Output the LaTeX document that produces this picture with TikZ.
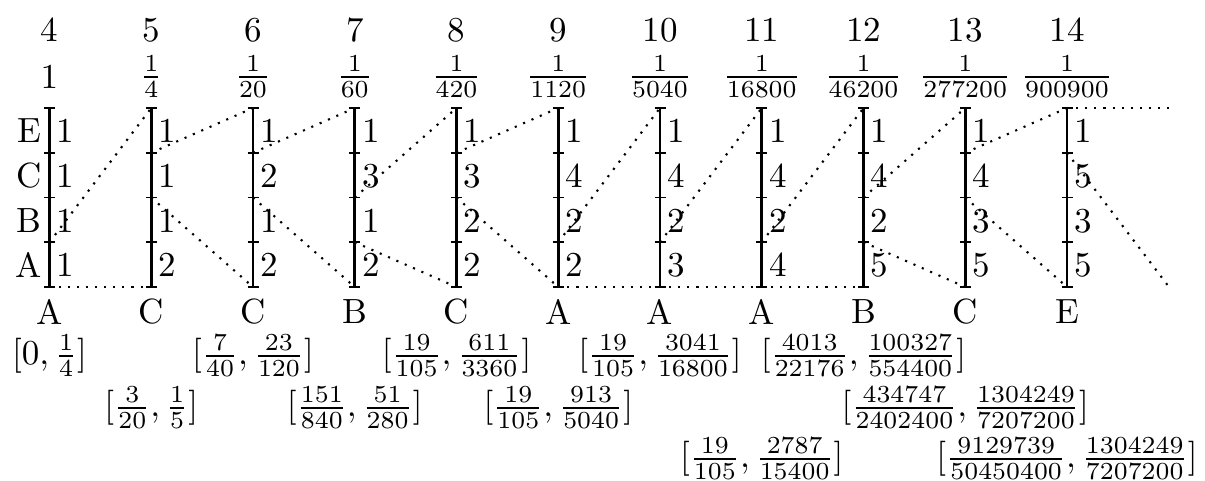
\documentclass[tikz,border=0pt]{standalone}
\usepackage{amsmath}
\usetikzlibrary{positioning}

\begin{document}
\begin{tikzpicture}[
    x=0.2857pt, y=-0.2857pt,
    tape/.style={line width=0.8pt},
    tapetick/.style={line width=0.5pt},
    zoomline/.style={semithick, dotted},
    cnt/.style={inner sep=0pt},
    rng/.style={inner sep=0pt}
  ]
  \useasboundingbox (0,0) rectangle (1205,481);
  % one tape per step: step, probability, counts E/C/B/A, symbol
  \foreach \n/\pr/\nE/\nC/\nB/\nA/\sym [count=\i from 0] in {
      4/1/1/1/1/1/A,
      5/{\frac{1}{4}}/1/1/1/2/C,
      6/{\frac{1}{20}}/1/2/1/2/C,
      7/{\frac{1}{60}}/1/3/1/2/B,
      8/{\frac{1}{420}}/1/3/2/2/C,
      9/{\frac{1}{1120}}/1/4/2/2/A,
      10/{\frac{1}{5040}}/1/4/2/3/A,
      11/{\frac{1}{16800}}/1/4/2/4/A,
      12/{\frac{1}{46200}}/1/4/2/5/B,
      13/{\frac{1}{277200}}/1/4/3/5/C,
      14/{\frac{1}{900900}}/1/5/3/5/E}
  {
    \pgfmathsetmacro\xx{49.5+101.75*\i}
    \foreach \k in {0,...,4}
      \coordinate (t\n-\k) at (\xx, 108+44.75*\k);
    \draw[tape] (t\n-0) -- (t\n-4);
    \foreach \k in {0,...,4}
      \draw[tapetick] (t\n-\k) ++(-5.5,0) -- ++(11,0);
    \node (step\n) at (\xx, 30) {\n};
    \node (prob\n) at (\xx, 77) {$\pr$};
    \node (sym\n) at (\xx, 312) {\sym};
    \node[cnt] (cE\n) at (\xx+16, 131) {\nE};
    \node[cnt] (cC\n) at (\xx+16, 176) {\nC};
    \node[cnt] (cB\n) at (\xx+16, 221) {\nB};
    \node[cnt] (cA\n) at (\xx+16, 265) {\nA};
  }
  \coordinate (t15-0) at (1169, 108);
  \coordinate (t15-4) at (1169, 287);

  % letters of the first tape
  \node[cnt] (lE) at (29, 131) {E};
  \node[cnt] (lC) at (29, 176) {C};
  \node[cnt] (lB) at (29, 221) {B};
  \node[cnt] (lA) at (29, 265) {A};

  % zoom into the coded row
  \foreach \n/\r in {4/3, 5/1, 6/1, 7/2, 8/1, 9/3, 10/3, 11/3, 12/2, 13/1, 14/0}
  {
    \pgfmathtruncatemacro\m{\n+1}
    \pgfmathtruncatemacro\rr{\r+1}
    \draw[zoomline] (t\n-\r) -- (t\m-0);
    \draw[zoomline] (t\n-\rr) -- (t\m-4);
  }

  % intervals
  \foreach \n/\yy/\iv in {
      4/356/{[0, \frac{1}{4}]},
      5/408/{[\frac{3}{20}, \frac{1}{5}]},
      6/356/{[\frac{7}{40}, \frac{23}{120}]},
      7/408/{[\frac{151}{840}, \frac{51}{280}]},
      8/356/{[\frac{19}{105}, \frac{611}{3360}]},
      9/408/{[\frac{19}{105}, \frac{913}{5040}]},
      10/356/{[\frac{19}{105}, \frac{3041}{16800}]},
      11/459/{[\frac{19}{105}, \frac{2787}{15400}]},
      12/356/{[\frac{4013}{22176}, \frac{100327}{554400}]},
      13/408/{[\frac{434747}{2402400}, \frac{1304249}{7207200}]},
      14/459/{[\frac{9129739}{50450400}, \frac{1304249}{7207200}]}}
    \node[rng] (rng\n) at (sym\n |- 0,\yy) {$\iv$};
\end{tikzpicture}
\end{document}
